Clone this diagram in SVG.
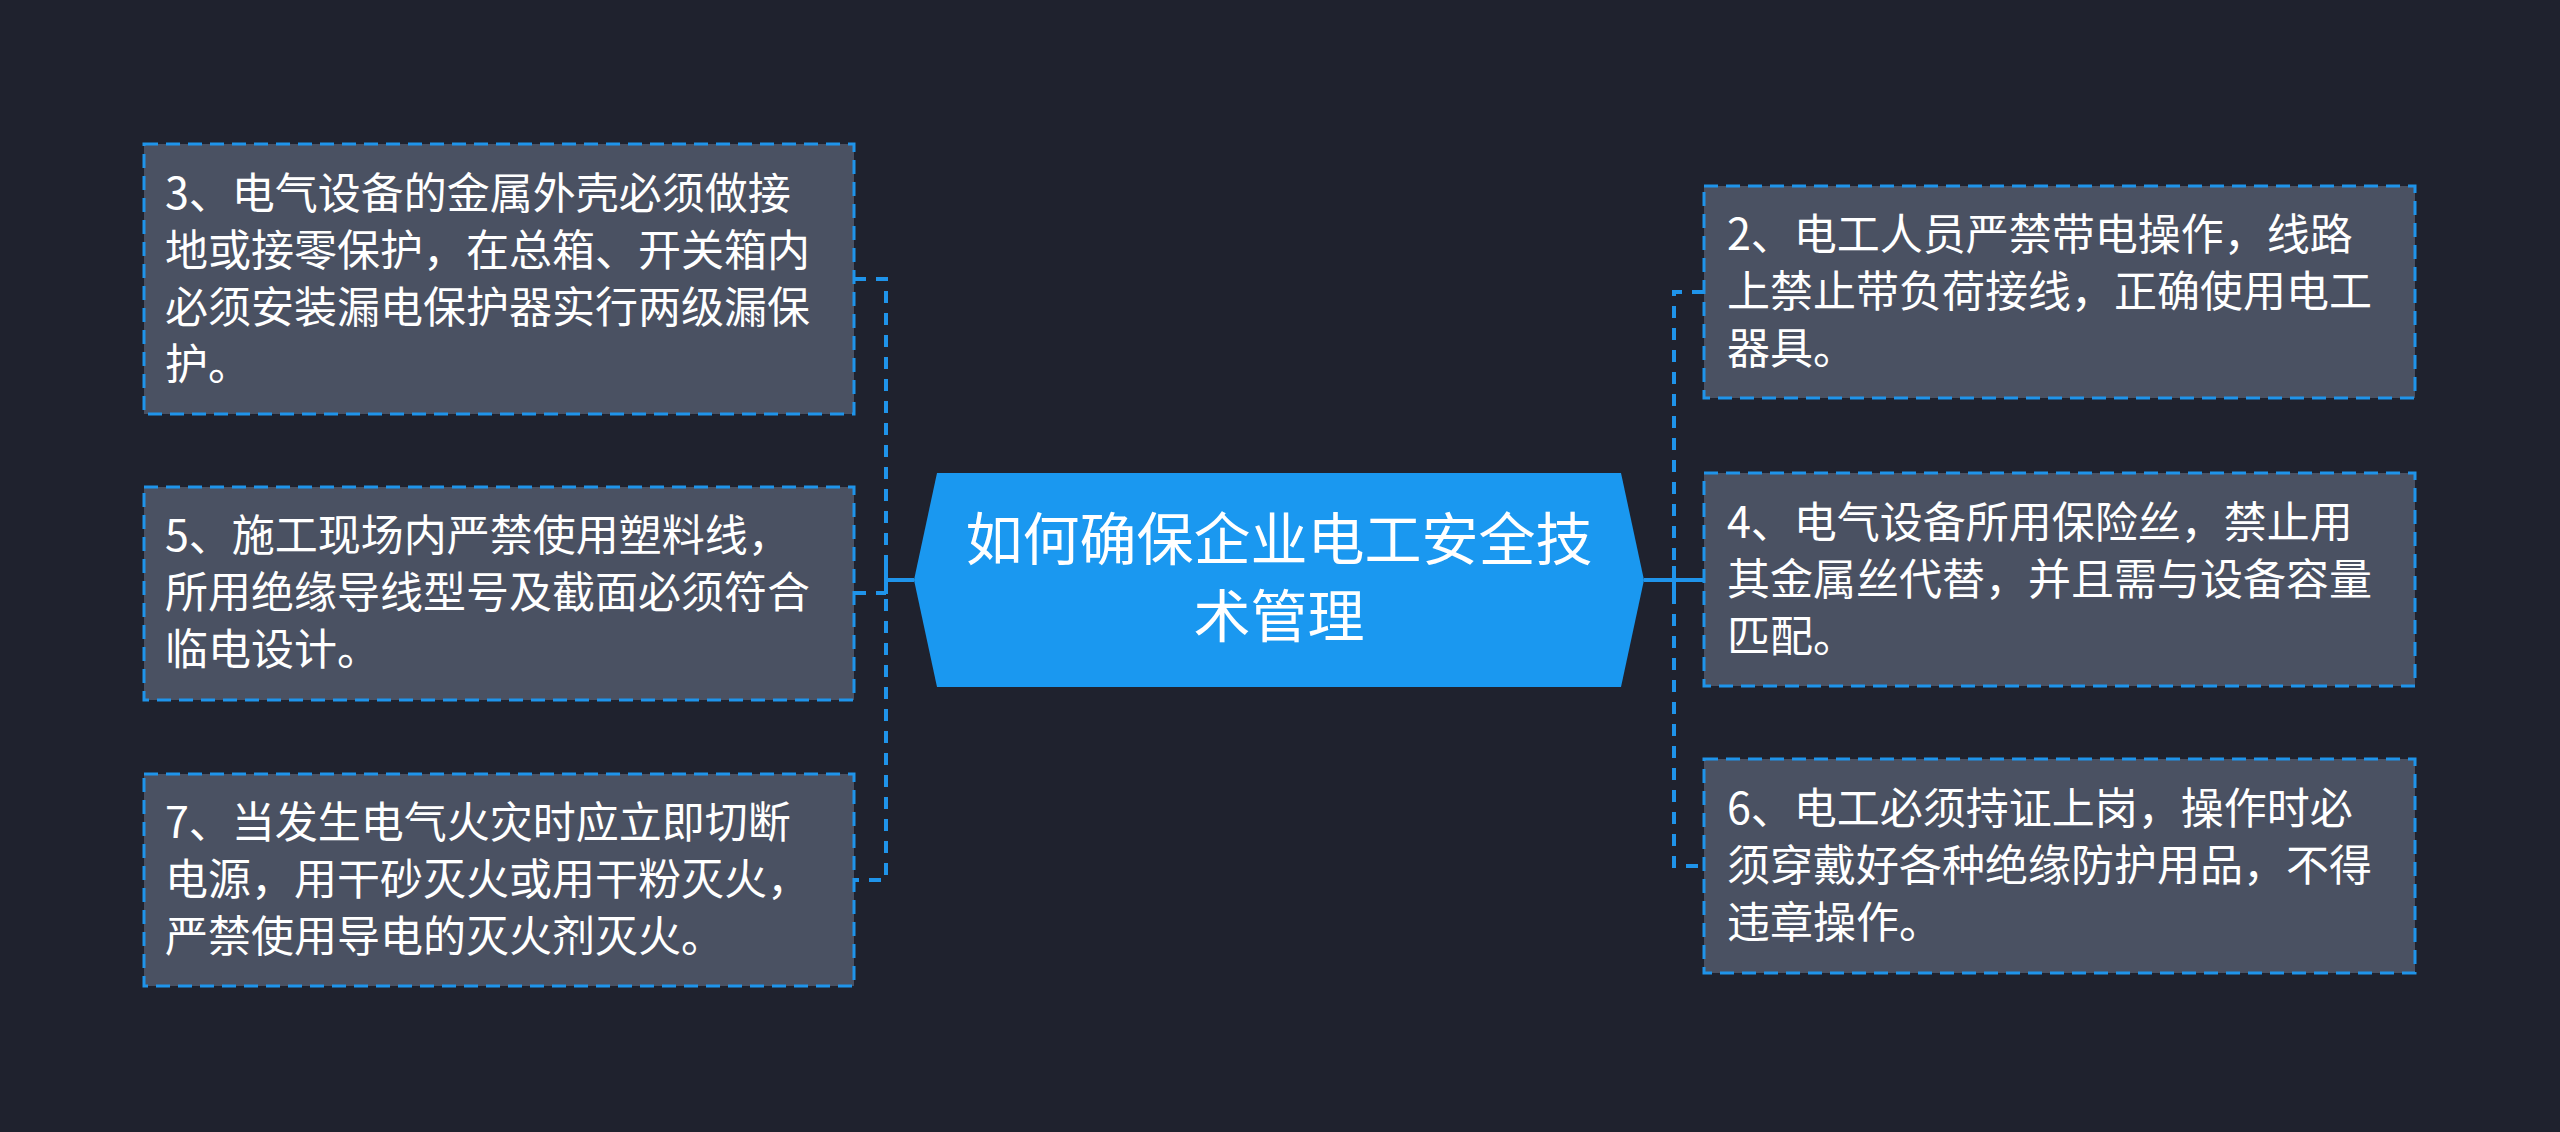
<svg xmlns="http://www.w3.org/2000/svg" width="2560" height="1132" viewBox="0 0 2560 1132">
<style>
.node{fill:#4a5162;stroke:#1f94ea;stroke-width:3;stroke-dasharray:14 8;}
.t{font-family:"Noto Sans CJK SC","Noto Sans",sans-serif;font-size:43px;fill:#ffffff;}
.ct{font-family:"Noto Sans CJK SC","Noto Sans",sans-serif;font-size:57px;fill:#ffffff;text-anchor:middle;}
.dash{fill:none;stroke:#1f94ea;stroke-width:4;stroke-dasharray:12 10;}
.solid{fill:none;stroke:#1f94ea;stroke-width:4;}
</style>
<rect width="2560" height="1132" fill="#1f222e"/>
<g id="connectors">
<path class="dash" d="M854,279 H886 V880 H854"/>
<path class="dash" d="M854,593 H886"/>
<path class="solid" d="M886,580 H914 M886,566 V594"/>
<path class="dash" d="M1704,292 H1674 V866 H1704"/>
<path class="solid" d="M1644,580 H1704 M1674,566 V594"/>
</g>
<g id="center">
<polygon points="914,580 937,473 1621,473 1644,580 1621,687 937,687" fill="#1a98f0"/>
<text class="ct" x="1279" y="560">如何确保企业电工安全技</text>
<text class="ct" x="1279" y="637">术管理</text>
</g>
<g id="node3">
<rect class="node" x="144" y="144" width="710" height="270"/>
<text class="t" x="165" y="209">3、电气设备的金属外壳必须做接</text>
<text class="t" x="165" y="266">地或接零保护，在总箱、开关箱内</text>
<text class="t" x="165" y="323">必须安装漏电保护器实行两级漏保</text>
<text class="t" x="165" y="380">护。</text>
</g>
<g id="node5">
<rect class="node" x="144" y="487" width="710" height="213"/>
<text class="t" x="165" y="551">5、施工现场内严禁使用塑料线，</text>
<text class="t" x="165" y="608">所用绝缘导线型号及截面必须符合</text>
<text class="t" x="165" y="665">临电设计。</text>
</g>
<g id="node7">
<rect class="node" x="144" y="774" width="710" height="212"/>
<text class="t" x="165" y="838">7、当发生电气火灾时应立即切断</text>
<text class="t" x="165" y="895">电源，用干砂灭火或用干粉灭火，</text>
<text class="t" x="165" y="952">严禁使用导电的灭火剂灭火。</text>
</g>
<g id="node2">
<rect class="node" x="1704" y="186" width="711" height="212"/>
<text class="t" x="1727" y="250">2、电工人员严禁带电操作，线路</text>
<text class="t" x="1727" y="307">上禁止带负荷接线，正确使用电工</text>
<text class="t" x="1727" y="364">器具。</text>
</g>
<g id="node4">
<rect class="node" x="1704" y="473" width="711" height="213"/>
<text class="t" x="1727" y="538">4、电气设备所用保险丝，禁止用</text>
<text class="t" x="1727" y="595">其金属丝代替，并且需与设备容量</text>
<text class="t" x="1727" y="652">匹配。</text>
</g>
<g id="node6">
<rect class="node" x="1704" y="759" width="711" height="214"/>
<text class="t" x="1727" y="824">6、电工必须持证上岗，操作时必</text>
<text class="t" x="1727" y="881">须穿戴好各种绝缘防护用品，不得</text>
<text class="t" x="1727" y="938">违章操作。</text>
</g>
</svg>
